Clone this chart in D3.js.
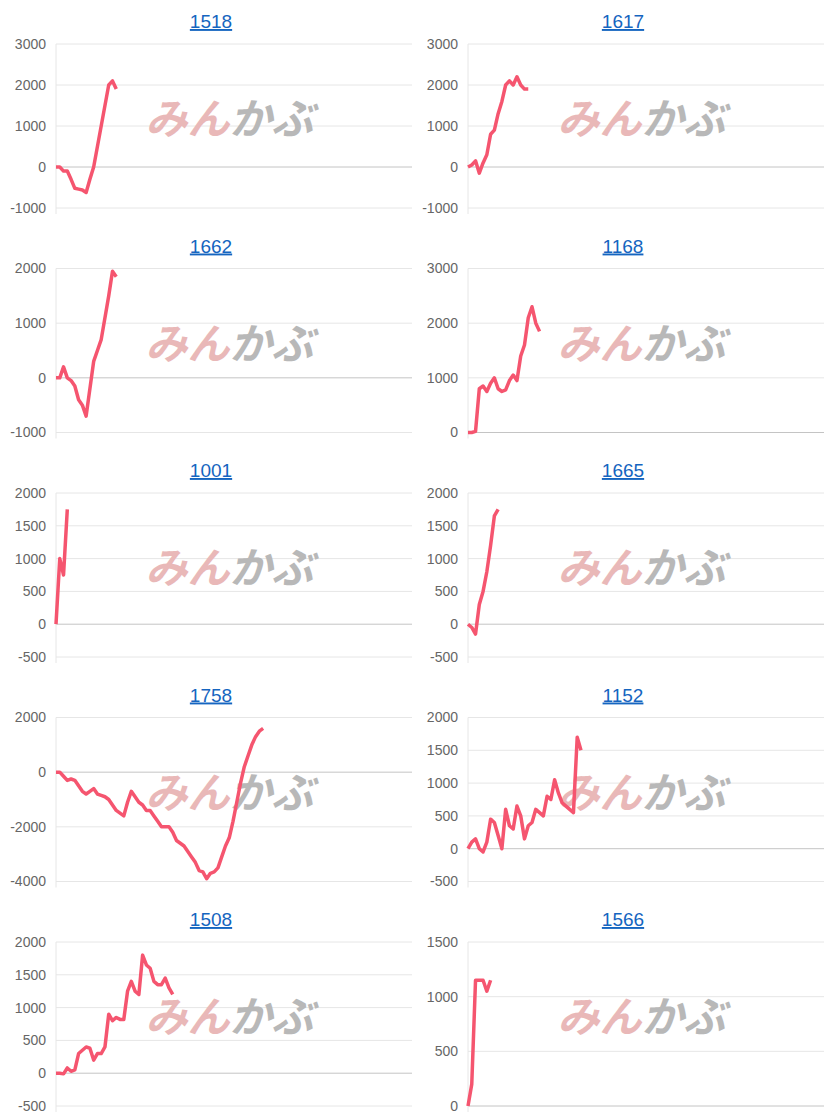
<!DOCTYPE html><html><head><meta charset="utf-8">
<script src="https://cdn.jsdelivr.net/npm/d3@7"></script>
<style>body{margin:0;background:#fff;font-family:Arial,"Liberation Sans",sans-serif}</style></head><body>
<svg id="c" width="825" height="1120"></svg>
<script>
const titles=["1518","1617","1662","1168","1001","1665","1758","1152","1508","1566"];
const yDomains=[[-1000,3000],[-1000,3000],[-1000,2000],[0,3000],[-500,2000],[-500,2000],[-4000,2000],[-500,2000],[-500,2000],[0,1500]];
const yStep=[1000,1000,1000,1000,500,500,2000,500,500,500];
const s1518=[0,0,-100,-100,-300,-520,-540,-560,-620,-300,0,500,1000,1500,2000,2100,1900];
const s1617=[0,50,150,-150,100,300,800,900,1300,1600,2000,2100,2000,2200,2000,1900,1900];
const s1662=[0,0,200,0,-50,-150,-400,-500,-700,-200,300,500,700,1100,1500,1950,1850];
const s1168=[0,0,20,800,850,750,900,1000,800,750,780,950,1050,950,1400,1600,2100,2300,2000,1850];
const s1001=[0,1000,750,1750];
const s1665=[0,-50,-150,300,500,800,1200,1650,1750];
const s1758=[0,0,-150,-300,-250,-300,-500,-700,-800,-700,-600,-800,-850,-900,-1000,-1200,-1400,-1500,-1600,-1100,-700,-900,-1100,-1200,-1400,-1400,-1600,-1800,-2000,-2000,-2000,-2200,-2500,-2600,-2700,-2900,-3100,-3300,-3600,-3650,-3900,-3700,-3650,-3500,-3100,-2700,-2400,-1800,-1100,-400,200,600,1000,1300,1500,1600];
const s1152=[0,100,150,0,-50,100,450,400,200,0,600,350,300,650,500,150,350,400,600,550,500,800,750,1050,850,700,650,600,550,1700,1500];
const s1508=[0,0,-10,80,30,50,300,350,400,380,200,300,300,400,900,800,850,820,820,1250,1400,1250,1200,1800,1650,1600,1400,1350,1350,1450,1300,1200];
const s1566=[0,200,1150,1150,1150,1050,1150];
const series=[s1518,s1617,s1662,s1168,s1001,s1665,s1758,s1152,s1508,s1566];
const svg=d3.select("#c");
const W=354,H=164,xN=94;
series.forEach((data,i)=>{
  const col=i%2,row=Math.floor(i/2);
  const left=col?468:56, titleY=22+row*224.5, top=titleY+22;
  const g=svg.append("g").attr("transform",`translate(${left},${top})`);
  const x=d3.scaleLinear().domain([0,xN]).range([0,W]);
  const y=d3.scaleLinear().domain(yDomains[i]).range([H,0]);
  const ticks=d3.range(yDomains[i][0],yDomains[i][1]+1,yStep[i]);
  g.selectAll(".gl").data(ticks).join("line").attr("x1",0).attr("x2",W+2)
   .attr("y1",d=>y(d)).attr("y2",d=>y(d)).attr("stroke",d=>d===0?"#c4c4c4":"#e6e6e6").attr("stroke-width",1);
  g.append("line").attr("x1",0).attr("x2",0).attr("y1",0).attr("y2",H+6).attr("stroke","#e6e6e6");
  g.selectAll(".tl").data(ticks).join("text").attr("x",-10).attr("y",d=>y(d)).attr("dy","0.35em")
   .attr("text-anchor","end").attr("font-size",14).attr("fill","#666").text(d=>d);
  const wm=g.append("text").attr("x",W*0.49).attr("y",H*0.55).attr("text-anchor","middle")
   .attr("font-size",42).attr("font-weight","bold").attr("font-style","italic").attr("font-family","'Noto Sans CJK JP'");
  wm.append("tspan").attr("fill","#e9b8b8").text("みん");
  wm.append("tspan").attr("fill","#b8b8b8").text("かぶ");
  g.append("path").datum(data).attr("fill","none").attr("stroke","#f5556f").attr("stroke-width",3.5).attr("stroke-linejoin","round")
   .attr("d",d3.line().x((d,j)=>x(j)).y(d=>y(d)));
  svg.append("text").attr("x",left+W/2-22).attr("y",titleY+6).attr("text-anchor","middle").attr("font-size",19)
   .attr("fill","#1565c0").attr("text-decoration","underline").text(titles[i]);
});
</script></body></html>
